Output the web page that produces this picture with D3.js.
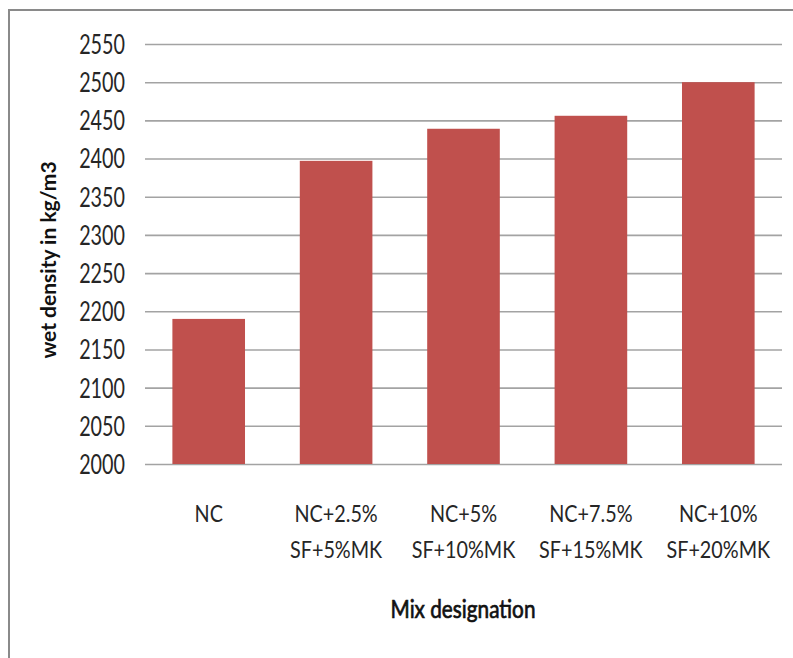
<!DOCTYPE html>
<html>
<head>
<meta charset="utf-8">
<script src="https://cdn.jsdelivr.net/npm/d3@7"></script>
<style>
  html, body { margin: 0; padding: 0; background: #fff; }
  svg { display: block; }
  text { font-family: Lato, "Open Sans", sans-serif; }
</style>
</head>
<body>
<svg id="chart" width="793" height="658"></svg>
<script>
// Mix designations (two-line labels) and measured wet density in kg/m3
const mixLine1 = ["NC", "NC+2.5%", "NC+5%", "NC+7.5%", "NC+10%"];
const mixLine2 = ["", "SF+5%MK", "SF+10%MK", "SF+15%MK", "SF+20%MK"];
const wetDensity = [2190, 2397, 2439, 2456, 2500];
const yTicks = [2000, 2050, 2100, 2150, 2200, 2250, 2300, 2350, 2400, 2450, 2500, 2550];

const svg = d3.select("#chart");
const W = 793, H = 658;
const margin = { left: 145, right: 11, top: 44, bottom: 194 };
const plotW = W - margin.left - margin.right;
const plotH = H - margin.top - margin.bottom;

// Narrow, tall lettering: squeeze glyphs horizontally
function condense(sel, k) {
  sel.each(function () {
    const len = this.getComputedTextLength();
    if (len > 0) {
      d3.select(this)
        .attr("textLength", len * k)
        .attr("lengthAdjust", "spacingAndGlyphs");
    }
  });
}

// Chart area border (runs off the right and bottom edges)
svg.append("rect")
  .attr("x", 9).attr("y", 10)
  .attr("width", 800).attr("height", 700)
  .attr("fill", "none")
  .attr("stroke", "#8a8a8a")
  .attr("stroke-width", 2);

const g = svg.append("g").attr("transform", `translate(${margin.left},${margin.top})`);

const x = d3.scaleBand()
  .domain(mixLine1)
  .range([0, plotW])
  .paddingInner(0.43)
  .paddingOuter(0.215);

const y = d3.scaleLinear()
  .domain([2000, 2550])
  .range([plotH, 0]);

// Horizontal gridlines with value labels
const yAxis = g.append("g")
  .call(d3.axisLeft(y).tickValues(yTicks).tickSize(-plotW).tickPadding(20).tickFormat(d3.format("d")));
yAxis.select(".domain").remove();
yAxis.selectAll(".tick line")
  .attr("stroke", "#a3a3a3")
  .attr("stroke-width", 1.6);
yAxis.selectAll(".tick text")
  .attr("fill", "#262626")
  .attr("font-size", 26)
  .attr("dy", "0.36em")
  .call(condense, 0.76);

// Bars
g.selectAll(".bar")
  .data(wetDensity)
  .join("rect")
  .attr("class", "bar")
  .attr("x", (d, i) => x(mixLine1[i]))
  .attr("width", x.bandwidth())
  .attr("y", d => y(d))
  .attr("height", d => y(2000) - y(d))
  .attr("fill", "#C0504D");

// Category labels (two lines)
const cat = g.append("g").selectAll("text")
  .data(mixLine1)
  .join("text")
  .attr("y", plotH + 58)
  .attr("text-anchor", "middle")
  .attr("font-size", 23)
  .attr("fill", "#262626");
cat.append("tspan")
  .attr("x", d => x(d) + x.bandwidth() / 2)
  .text(d => d)
  .call(condense, 0.86);
cat.append("tspan")
  .attr("x", d => x(d) + x.bandwidth() / 2)
  .attr("dy", 36)
  .text((d, i) => mixLine2[i])
  .call(condense, 0.86);

// Axis titles
svg.append("text")
  .attr("x", 463).attr("y", 618)
  .attr("text-anchor", "middle")
  .attr("font-size", 25)
  .attr("fill", "#111")
  .attr("stroke", "#111")
  .attr("stroke-width", 0.7)
  .text("Mix designation")
  .call(condense, 0.83);

svg.append("text")
  .attr("transform", "translate(56,260) rotate(-90)")
  .attr("text-anchor", "middle")
  .attr("font-size", 21)
  .attr("font-weight", "bold")
  .attr("fill", "#111")
  .text("wet density in kg/m3");
</script>
</body>
</html>
